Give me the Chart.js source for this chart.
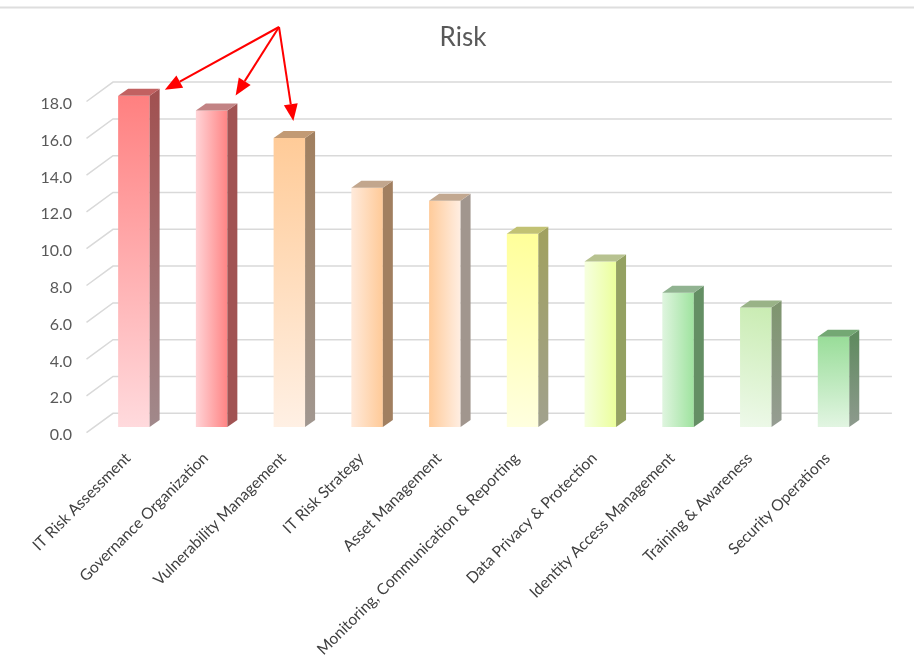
<!DOCTYPE html>
<html>
<head>
<meta charset="utf-8">
<title>Risk</title>
<script src="https://cdn.jsdelivr.net/npm/chart.js@4.4.1/dist/chart.umd.min.js"></script>
<style>
  html, body { margin:0; padding:0; background:#fff; }
  #wrap { width:914px; height:663px; }
</style>
</head>
<body>
<div id="wrap"><canvas id="riskChart" width="914" height="663"></canvas></div>
<script>
// ── DATA ────────────────────────────────────────────────
const chartTitle = 'Risk';
const categories = [
  'IT Risk Assessment',
  'Governance Organization',
  'Vulnerability Management',
  'IT Risk Strategy',
  'Asset Management',
  'Monitoring, Communication & Reporting',
  'Data Privacy & Protection',
  'Identity Access Management',
  'Training & Awareness',
  'Security Operations',
];
const riskScores = [18.0, 17.2, 15.7, 13.0, 12.3, 10.5, 9.0, 7.3, 6.5, 4.9];
const yTickValues = [0, 2, 4, 6, 8, 10, 12, 14, 16, 18];

// ── BAR FILLS ───────────────────────────────────────────
// dir: v = top→bottom, h = left→right, d = top-right→bottom-left
const faceFrom = ['#ff8080','#ffd4d7','#ffcb98','#ffeadb','#ffcb9a','#ffff99','#f6ffdf','#dff5df','#c9ecb2','#99dd99'];
const faceTo   = ['#ffdadd','#ff8484','#fff0e4','#ffca98','#ffeee2','#ffffe0','#ebff9c','#9fe39f','#eef9ea','#e2f5e2'];
const faceDir  = ['v','h','v','h','h','d','h','h','d','v'];

const DEPTH_X = 10, DEPTH_Y = 7;

const shade = (hex, k) => {
  const n = parseInt(hex.slice(1), 16);
  const r = Math.round(((n >> 16) & 255) * k);
  const g = Math.round(((n >> 8) & 255) * k);
  const b = Math.round((n & 255) * k);
  return `rgb(${r},${g},${b})`;
};

const mixHex = (a, b) => {
  const x = parseInt(a.slice(1), 16), y = parseInt(b.slice(1), 16);
  const m = s => Math.round((((x >> s) & 255) + ((y >> s) & 255)) / 2);
  return '#' + [16, 8, 0].map(s => m(s).toString(16).padStart(2, '0')).join('');
};

const frontFill = (ctx) => {
  const chart = ctx.chart;
  const i = ctx.dataIndex;
  if (!chart.chartArea || ctx.type !== 'data') return faceFrom[i] || '#ccc';
  const xs = chart.scales.x, ys = chart.scales.y;
  const cx = xs.getPixelForValue(i);
  const half = (xs.width / categories.length) * 0.405 / 2;
  const top = ys.getPixelForValue(riskScores[i]);
  const base = ys.getPixelForValue(0);
  const c = chart.ctx;
  let grad;
  if (faceDir[i] === 'v') grad = c.createLinearGradient(0, top, 0, base);
  else if (faceDir[i] === 'h') grad = c.createLinearGradient(cx - half, 0, cx + half, 0);
  else grad = c.createLinearGradient(cx + half, top, cx - half, base);
  grad.addColorStop(0, faceFrom[i]);
  grad.addColorStop(1, faceTo[i]);
  return grad;
};

// ── PLUGINS ─────────────────────────────────────────────
const wallGrid = {
  id: 'wallGrid',
  beforeDraw(chart) {
    const c = chart.ctx;
    c.save();
    c.strokeStyle = '#dedede';
    c.lineWidth = 2;
    c.beginPath(); c.moveTo(0, 7.5); c.lineTo(chart.width, 7.5); c.stroke();
    c.restore();
  },
  beforeDatasetsDraw(chart) {
    const c = chart.ctx, a = chart.chartArea, ys = chart.scales.y;
    c.save();
    c.strokeStyle = '#d9d9d9';
    c.lineWidth = 1.5;
    yTickValues.forEach(v => {
      const y = ys.getPixelForValue(v);
      c.beginPath();
      c.moveTo(a.left - 8.5, y + 5.7);
      c.lineTo(a.left + 18, y - 13.7);
      c.lineTo(a.right + 19.5, y - 13.7);
      c.stroke();
    });
    c.restore();
  },
};

const barDepth = {
  id: 'barDepth',
  afterDatasetsDraw(chart) {
    const c = chart.ctx;
    chart.getDatasetMeta(0).data.forEach((el, i) => {
      const l = el.x - el.width / 2, r = el.x + el.width / 2;
      const t = el.y, b = el.base;

      // right side face
      let side;
      if (faceDir[i] === 'h') side = shade(faceTo[i], 0.63);
      else {
        side = c.createLinearGradient(0, t, 0, b);
        side.addColorStop(0, shade(faceFrom[i], 0.63));
        side.addColorStop(1, shade(faceTo[i], 0.63));
      }
      c.fillStyle = side;
      c.beginPath();
      c.moveTo(r, t); c.lineTo(r + DEPTH_X, t - DEPTH_Y);
      c.lineTo(r + DEPTH_X, b - DEPTH_Y); c.lineTo(r, b);
      c.closePath(); c.fill();

      // top face
      const topCol = faceDir[i] === 'h' ? mixHex(faceFrom[i], faceTo[i]) : faceFrom[i];
      c.fillStyle = shade(topCol, 0.76);
      c.beginPath();
      c.moveTo(l, t); c.lineTo(l + DEPTH_X, t - DEPTH_Y);
      c.lineTo(r + DEPTH_X, t - DEPTH_Y); c.lineTo(r, t);
      c.closePath(); c.fill();
    });
  },
};

// title sits a little right of the canvas centre, over the plot
const titleText = {
  id: 'titleText',
  afterDraw(chart) {
    const c = chart.ctx;
    c.save();
    c.fillStyle = '#595959';
    c.font = '26px Lato';
    c.textAlign = 'center';
    c.textBaseline = 'middle';
    c.fillText(chartTitle, 463, 38);
    c.restore();
  },
};

// callout arrows pointing at the three highest bars
const arrowFrom = { x: 279, y: 27 };
const arrowTips = [
  { bar: 0, dx: 31, dy: -6 },
  { bar: 1, dx: 24, dy: -15 },
  { bar: 2, dx: 4,  dy: -17 },
];

const callouts = {
  id: 'callouts',
  afterDraw(chart) {
    const c = chart.ctx;
    const bars = chart.getDatasetMeta(0).data;
    c.save();
    c.strokeStyle = '#ff0000';
    c.fillStyle = '#ff0000';
    c.lineWidth = 2;
    arrowTips.forEach(t => {
      const el = bars[t.bar];
      const tx = el.x + t.dx, ty = el.y + t.dy;
      const ang = Math.atan2(ty - arrowFrom.y, tx - arrowFrom.x);
      const len = 17, hw = 7;
      const bx = tx - Math.cos(ang) * len, by = ty - Math.sin(ang) * len;
      c.beginPath();
      c.moveTo(arrowFrom.x, arrowFrom.y);
      c.lineTo(bx, by);
      c.stroke();
      c.beginPath();
      c.moveTo(tx, ty);
      c.lineTo(bx + Math.sin(ang) * hw, by - Math.cos(ang) * hw);
      c.lineTo(bx - Math.sin(ang) * hw, by + Math.cos(ang) * hw);
      c.closePath();
      c.fill();
    });
    c.restore();
  },
};

// ── CHART ───────────────────────────────────────────────
const ctx = document.getElementById('riskChart').getContext('2d');
new Chart(ctx, {
  type: 'bar',
  data: {
    labels: categories,
    datasets: [{
      data: riskScores,
      backgroundColor: frontFill,
      borderWidth: 0,
      barPercentage: 0.405,
      categoryPercentage: 1,
    }],
  },
  options: {
    responsive: false,
    animation: false,
    layout: { padding: { left: 0, right: 41.6, top: 95.8, bottom: 0 } },
    plugins: {
      legend: { display: false },
      tooltip: { enabled: false },
      title: { display: false },
    },
    scales: {
      x: {
        grid: { display: false, drawTicks: false },
        border: { display: false },
        ticks: {
          autoSkip: false,
          minRotation: 45,
          maxRotation: 45,
          padding: 22,
          labelOffset: -6,
          color: '#404040',
          font: { family: 'Lato', size: 15.6 },
        },
        afterFit: s => { s.height = 236; },
      },
      y: {
        min: 0,
        max: 18,
        grid: { display: false, drawTicks: false },
        border: { display: false },
        afterBuildTicks: s => { s.ticks = yTickValues.map(v => ({ value: v })); },
        ticks: {
          padding: 23,
          labelOffset: 8,
          color: '#595959',
          font: { family: 'Lato', size: 16 },
          callback: v => Number(v).toFixed(1),
        },
        afterFit: s => { s.width = 95; },
      },
    },
  },
  plugins: [wallGrid, barDepth, titleText, callouts],
});
</script>
</body>
</html>
